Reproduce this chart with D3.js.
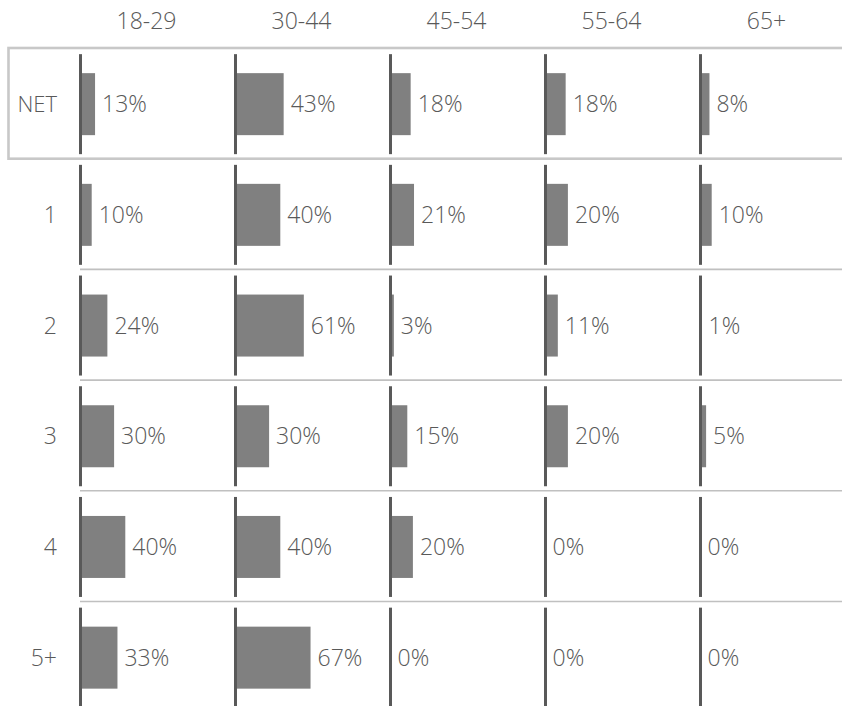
<!DOCTYPE html>
<html>
<head>
<meta charset="utf-8">
<script src="https://cdn.jsdelivr.net/npm/d3@7"></script>
<style>
  html, body { margin: 0; padding: 0; background: #ffffff; }
  svg { display: block; }
  text { font-family: "Open Sans", "DejaVu Sans", sans-serif; font-weight: 300; fill: #595959; }
</style>
</head>
<body>
<svg id="chart" width="842" height="706"></svg>
<script>
// Age groups across the top, row groups down the side
const ageGroups = ["18-29", "30-44", "45-54", "55-64", "65+"];
const rowGroups = ["NET", "1", "2", "3", "4", "5+"];

// Percentages per row, one value per age group
const netValues  = [13, 43, 18, 18, 8];
const row1Values = [10, 40, 21, 20, 10];
const row2Values = [24, 61, 3, 11, 1];
const row3Values = [30, 30, 15, 20, 5];
const row4Values = [40, 40, 20, 0, 0];
const row5Values = [33, 67, 0, 0, 0];

const seriesByRow = [netValues, row1Values, row2Values, row3Values, row4Values, row5Values];

const svg = d3.select("#chart");
const W = 842, H = 706;

// Layout scales
const col = d3.scaleBand().domain(ageGroups).range([80.5, 80.5 + 155 * ageGroups.length]).padding(0);
const row = d3.scaleBand().domain(rowGroups).range([48, 48 + 110.7 * rowGroups.length]).padding(0);
const len = d3.scaleLinear().domain([0, 100]).range([0, 112]);

const fontSize = 23;
const barH = 62;
const axisLen = 100;
const rowMid = r => row(r) + row.bandwidth() / 2 + 0.8;

const cells = [];
rowGroups.forEach((r, i) => {
  ageGroups.forEach((a, j) => {
    cells.push({ row: r, age: a, value: seriesByRow[i][j] });
  });
});

// Row separators (below the highlighted NET row)
svg.append("g")
  .selectAll("line")
  .data(rowGroups.slice(2))
  .join("line")
  .attr("x1", 80).attr("x2", W)
  .attr("y1", d => row(d)).attr("y2", d => row(d))
  .attr("stroke", "#c0c0c0")
  .attr("stroke-width", 1.6);

// Outline around the NET row
svg.append("rect")
  .attr("x", 8.5)
  .attr("y", row("NET"))
  .attr("width", W + 20)
  .attr("height", row.bandwidth())
  .attr("fill", "none")
  .attr("stroke", "#c8c8c8")
  .attr("stroke-width", 2.6);

// Bars
svg.append("g")
  .selectAll("rect")
  .data(cells)
  .join("rect")
  .attr("x", d => col(d.age))
  .attr("y", d => rowMid(d.row) - barH / 2)
  .attr("width", d => len(d.value))
  .attr("height", barH)
  .attr("fill", "#808080");

// Baseline segments per cell
svg.append("g")
  .selectAll("line")
  .data(cells)
  .join("line")
  .attr("x1", d => col(d.age)).attr("x2", d => col(d.age))
  .attr("y1", d => rowMid(d.row) - axisLen / 2)
  .attr("y2", d => rowMid(d.row) + axisLen / 2)
  .attr("stroke", "#595959")
  .attr("stroke-width", 3);

// Value labels
svg.append("g")
  .selectAll("text")
  .data(cells)
  .join("text")
  .attr("x", d => col(d.age) + len(d.value) + 7)
  .attr("y", d => rowMid(d.row) + fontSize * 0.357)
  .attr("font-size", fontSize)
  .text(d => d.value + "%");

// Column headers
svg.append("g")
  .selectAll("text")
  .data(ageGroups)
  .join("text")
  .attr("x", d => col(d) + 66)
  .attr("y", 29)
  .attr("text-anchor", "middle")
  .attr("font-size", fontSize)
  .text(d => d);

// Row headers
svg.append("g")
  .selectAll("text")
  .data(rowGroups)
  .join("text")
  .attr("x", 57)
  .attr("y", d => rowMid(d) + fontSize * 0.357)
  .attr("text-anchor", "end")
  .attr("font-size", d => d === "NET" ? 22 : fontSize)
  .text(d => d);
</script>
</body>
</html>
